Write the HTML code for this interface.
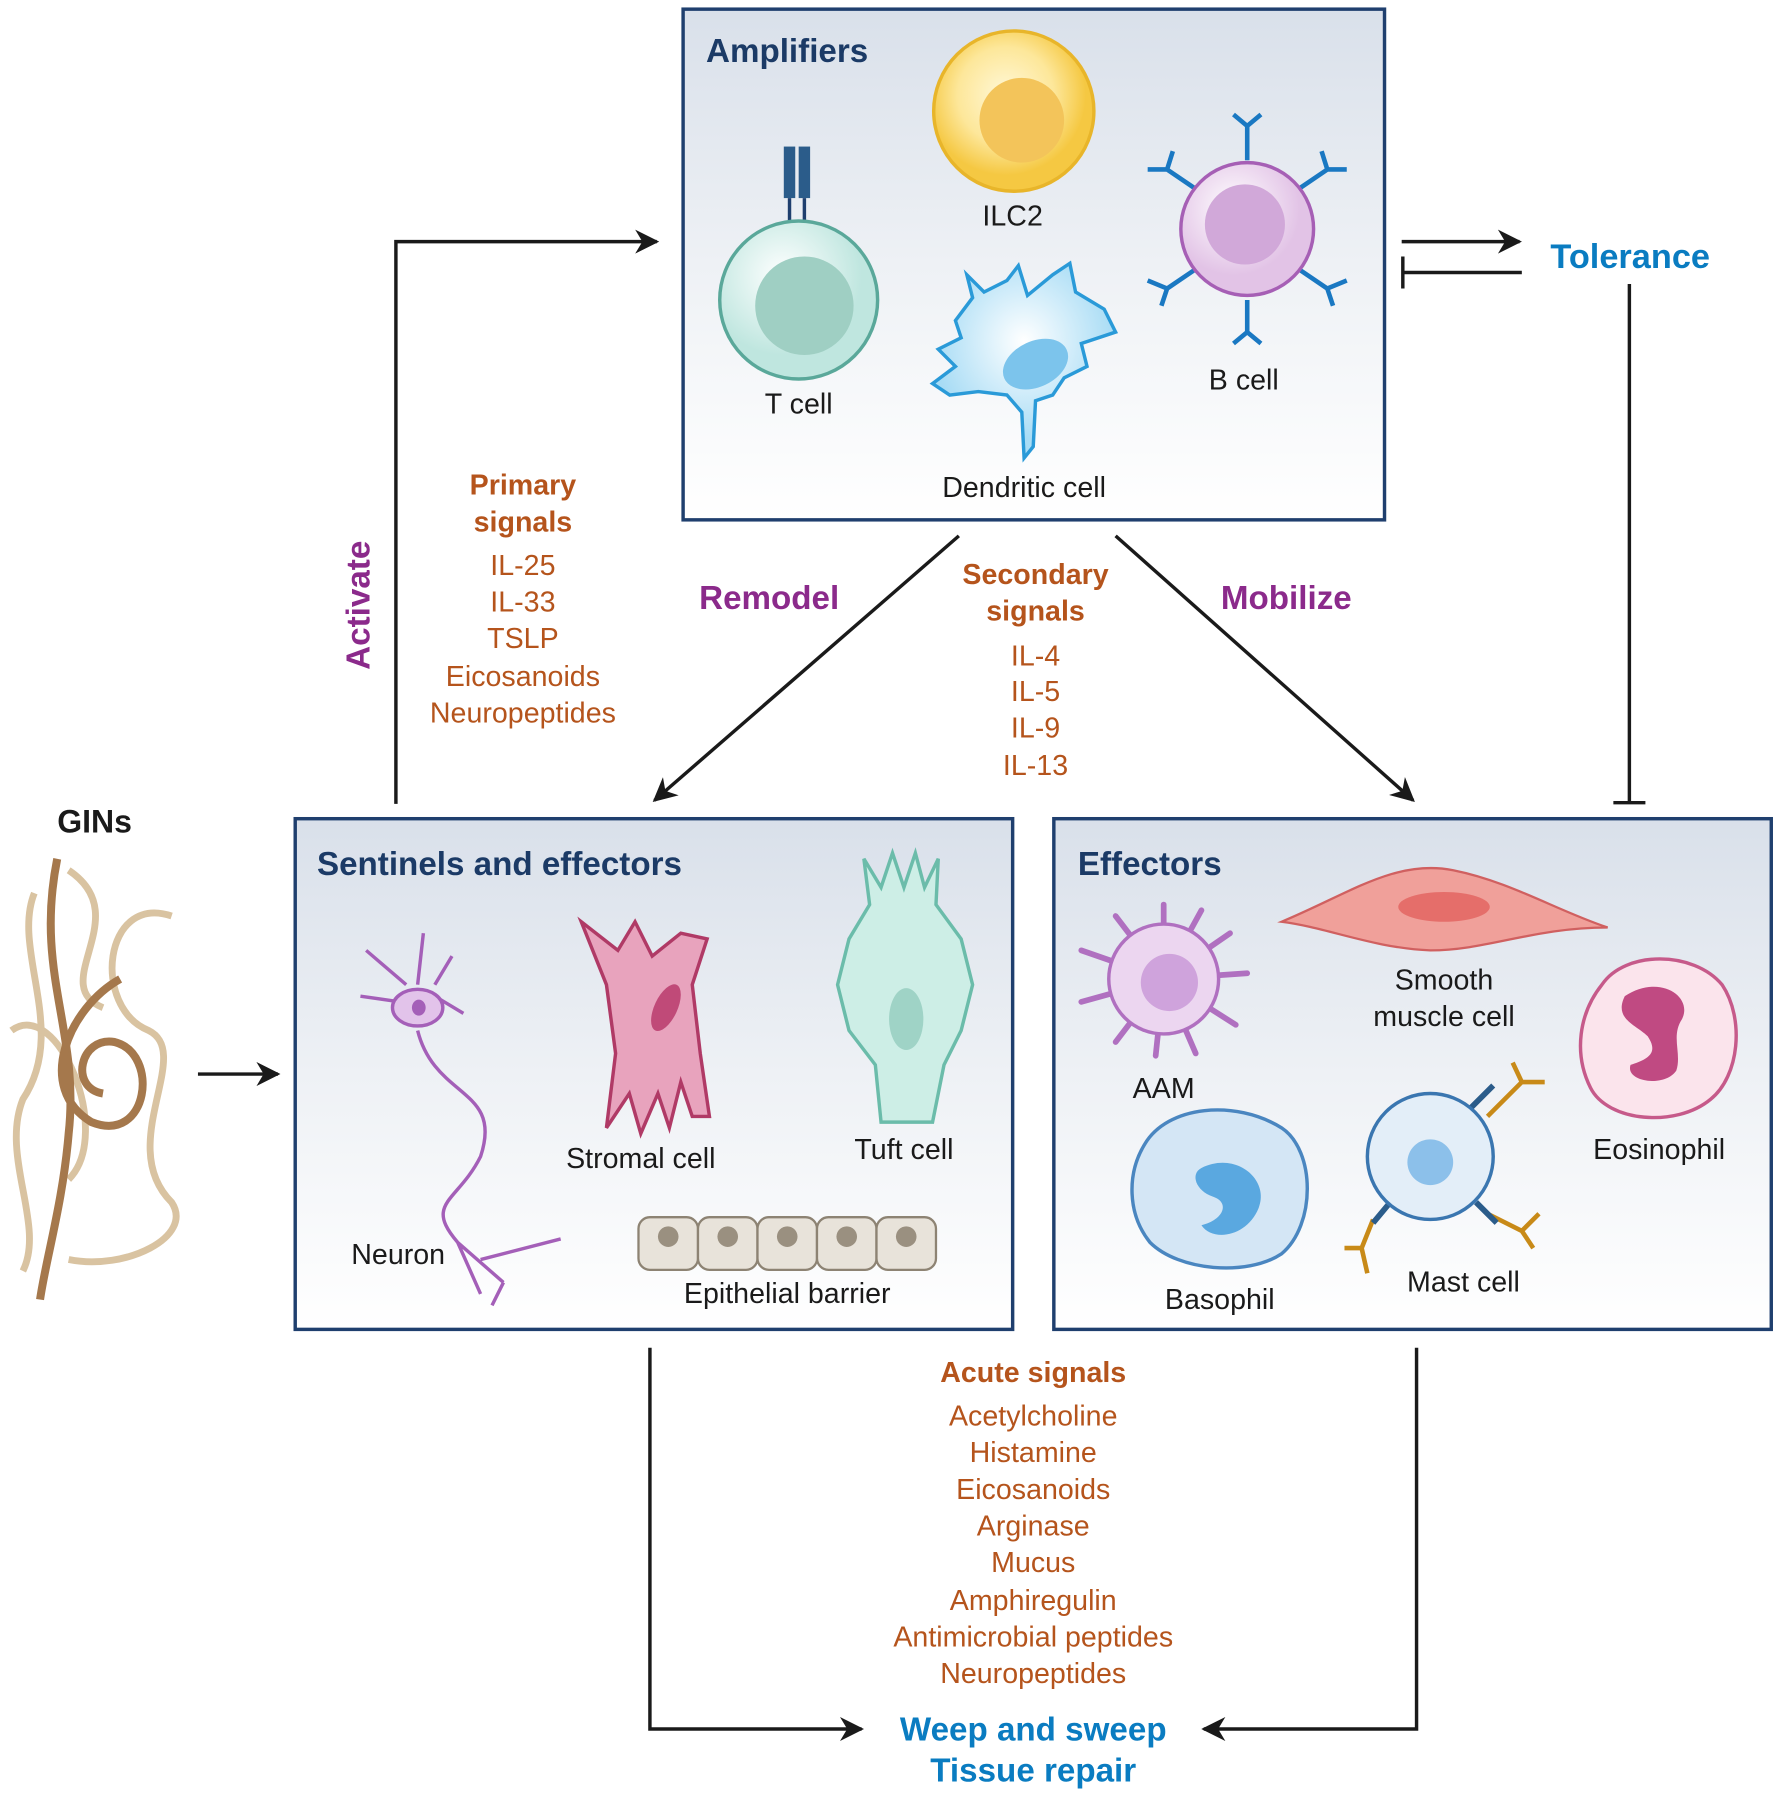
<!DOCTYPE html>
<html><head><meta charset="utf-8"><style>
html,body{margin:0;padding:0;background:#fff}
svg{display:block}
text{font-family:"Liberation Sans",sans-serif}
</style></head><body>
<svg width="1785" height="1800" viewBox="0 0 1560 1572" preserveAspectRatio="none" xmlns="http://www.w3.org/2000/svg">
<defs>
<linearGradient id="bg" x1="0" y1="0" x2="0" y2="1"><stop offset="0" stop-color="#d9e0ea"/><stop offset="0.5" stop-color="#eef1f5"/><stop offset="1" stop-color="#ffffff"/></linearGradient>
<marker id="ar" viewBox="0 0 10 10" refX="9" refY="5" markerWidth="7" markerHeight="7" orient="auto"><path d="M0,0 L10,5 L0,10 L3,5z" fill="#1a1a1a"/></marker>
<radialGradient id="ilc" cx="0.45" cy="0.4"><stop offset="0" stop-color="#fff8d8"/><stop offset="0.6" stop-color="#fde79a"/><stop offset="1" stop-color="#f5c842"/></radialGradient>
<radialGradient id="tc" cx="0.4" cy="0.35"><stop offset="0" stop-color="#ffffff"/><stop offset="1" stop-color="#bfe6df"/></radialGradient>
<radialGradient id="bc" cx="0.4" cy="0.35"><stop offset="0" stop-color="#ffffff"/><stop offset="1" stop-color="#e2c3e6"/></radialGradient>
<radialGradient id="dc" cx="0.5" cy="0.4"><stop offset="0" stop-color="#ffffff"/><stop offset="1" stop-color="#a8dcf5"/></radialGradient>
</defs>

<!-- boxes -->
<rect x="597" y="8" width="613" height="446" fill="url(#bg)" stroke="#1f3f6e" stroke-width="3"/>
<rect x="258" y="715" width="627" height="446" fill="url(#bg)" stroke="#1f3f6e" stroke-width="3"/>
<rect x="921" y="715" width="627" height="446" fill="url(#bg)" stroke="#1f3f6e" stroke-width="3"/>

<!-- connectors -->
<g stroke="#1a1a1a" stroke-width="3" fill="none">
<path d="M346,702 V211 H574" marker-end="url(#ar)"/>
<path d="M838,468 L572,699" marker-end="url(#ar)"/>
<path d="M975,468 L1235,699" marker-end="url(#ar)"/>
<path d="M1225,211 H1328" marker-end="url(#ar)"/>
<path d="M1330,238 H1226 M1226,224 V252"/>
<path d="M1424,248 V701 M1410,701 H1438"/>
<path d="M173,938 H243" marker-end="url(#ar)"/>
<path d="M568,1177 V1510 H753" marker-end="url(#ar)"/>
<path d="M1238,1177 V1510 H1052" marker-end="url(#ar)"/>
</g>

<!-- titles -->
<g font-weight="bold" fill="#1b3a66" font-size="29">
<text x="617" y="54">Amplifiers</text>
<text x="277" y="764">Sentinels and effectors</text>
<text x="942" y="764">Effectors</text>
</g>
<text x="50" y="727" font-size="28" font-weight="bold" fill="#1a1a1a">GINs</text>
<text x="1355" y="234" font-size="30" font-weight="bold" fill="#0a7cc1">Tolerance</text>
<g font-size="29" font-weight="bold" fill="#0a7cc1" text-anchor="middle">
<text x="903" y="1520">Weep and sweep</text>
<text x="903" y="1556">Tissue repair</text>
</g>
<g font-size="29" font-weight="bold" fill="#8b2a8b">
<text x="611" y="532">Remodel</text>
<text x="1067" y="532">Mobilize</text>
<text transform="translate(323,585) rotate(-90)">Activate</text>
</g>
<g fill="#b5541c" text-anchor="middle">
<text x="457" y="432" font-size="25" font-weight="bold">Primary</text>
<text x="457" y="464" font-size="25" font-weight="bold">signals</text>
<g font-size="25"><text x="457" y="502">IL-25</text><text x="457" y="534">IL-33</text><text x="457" y="566">TSLP</text><text x="457" y="599">Eicosanoids</text><text x="457" y="631">Neuropeptides</text></g>
<text x="905" y="510" font-size="25" font-weight="bold">Secondary</text>
<text x="905" y="542" font-size="25" font-weight="bold">signals</text>
<g font-size="25"><text x="905" y="581">IL-4</text><text x="905" y="612">IL-5</text><text x="905" y="644">IL-9</text><text x="905" y="677">IL-13</text></g>
<text x="903" y="1207" font-size="25" font-weight="bold">Acute signals</text>
<g font-size="25"><text x="903" y="1245">Acetylcholine</text><text x="903" y="1277">Histamine</text><text x="903" y="1309">Eicosanoids</text><text x="903" y="1341">Arginase</text><text x="903" y="1373">Mucus</text><text x="903" y="1406">Amphiregulin</text><text x="903" y="1438">Antimicrobial peptides</text><text x="903" y="1470">Neuropeptides</text></g>
</g>

<!-- cell labels -->
<g font-size="25" fill="#1a1a1a" text-anchor="middle">
<text x="885" y="197">ILC2</text><text x="698" y="361">T cell</text><text x="1087" y="340">B cell</text>
<text x="895" y="434">Dendritic cell</text>
<text x="348" y="1104">Neuron</text><text x="560" y="1020">Stromal cell</text><text x="790" y="1012">Tuft cell</text>
<text x="688" y="1138">Epithelial barrier</text>
<text x="1017" y="959">AAM</text><text x="1262" y="864">Smooth</text><text x="1262" y="896">muscle cell</text>
<text x="1450" y="1012">Eosinophil</text><text x="1066" y="1143">Basophil</text><text x="1279" y="1128">Mast cell</text>
</g>

<!-- ILC2 -->
<circle cx="886" cy="97" r="70" fill="url(#ilc)" stroke="#e8b52a" stroke-width="3"/>
<circle cx="893" cy="105" r="37" fill="#f3c45a"/>
<!-- T cell -->
<rect x="685" y="128" width="10" height="45" fill="#2b5c8a"/><rect x="698" y="128" width="10" height="45" fill="#2b5c8a"/>
<path d="M690,173 V212 M703,173 V212" stroke="#1f3f6e" stroke-width="3"/>
<circle cx="698" cy="262" r="69" fill="url(#tc)" stroke="#5aa89a" stroke-width="3"/>
<circle cx="703" cy="267" r="43" fill="#9fcfc3"/>
<!-- B cell -->
<g stroke="#1a78c2" stroke-width="4" fill="none">
<path d="M1090,140 V110 M1078,100 L1090,110 L1102,100"/>
<path d="M1090,262 V290 M1078,300 L1090,290 L1102,300"/>
<path d="M1135,165 L1160,148 M1155,132 L1160,148 L1177,148"/>
<path d="M1045,165 L1020,148 M1025,132 L1020,148 L1003,148"/>
<path d="M1135,235 L1160,252 M1177,245 L1160,252 L1165,267"/>
<path d="M1045,235 L1020,252 M1003,245 L1020,252 L1015,267"/>
</g>
<circle cx="1090" cy="200" r="58" fill="url(#bc)" stroke="#a65fb5" stroke-width="3"/>
<circle cx="1088" cy="196" r="35" fill="#d1a8d9"/>
<!-- Dendritic -->
<path d="M850,260 L845,240 L860,255 L880,245 L890,232 L898,258 L920,240 L935,230 L940,255 L965,270 L975,290 L945,300 L950,320 L930,330 L920,345 L905,350 L903,390 L895,400 L893,360 L880,345 L855,342 L830,345 L815,335 L835,320 L820,305 L840,295 L835,280z" fill="url(#dc)" stroke="#2a9ad8" stroke-width="3"/>
<ellipse cx="905" cy="318" rx="30" ry="20" transform="rotate(-25 905 318)" fill="#7cc4ec"/>

<!-- Neuron -->
<g stroke="#a45fb8" stroke-width="3" fill="none">
<path d="M365,900 C380,960 440,950 420,1010 C400,1050 370,1050 400,1085 L440,1120 M420,1100 L490,1082 M400,1085 L420,1130 M440,1120 L430,1140"/>
<path d="M355,860 L320,830 M365,860 L370,815 M380,870 L405,885 M350,875 L315,870 M380,860 L395,835"/>
</g>
<ellipse cx="365" cy="880" rx="22" ry="16" fill="#e2c3ea" stroke="#a45fb8" stroke-width="3"/>
<ellipse cx="366" cy="880" rx="6" ry="7" fill="#a45fb8"/>
<!-- Stromal -->
<path d="M508,805 L540,830 L555,805 L570,835 L595,815 L618,820 L605,860 L612,920 L620,975 L605,975 L595,945 L585,985 L575,955 L560,990 L550,955 L530,985 L538,920 L530,860z" fill="#e8a3bd" stroke="#b03a66" stroke-width="3"/>
<ellipse cx="582" cy="880" rx="10" ry="22" transform="rotate(25 582 880)" fill="#c04a78"/>
<!-- Tuft -->
<path d="M760,790 L755,750 L770,775 L780,745 L790,775 L800,745 L808,775 L820,750 L818,790 L840,820 L850,860 L840,900 L825,930 L815,980 L770,980 L765,930 L742,900 L732,860 L742,820z" fill="#cdeee6" stroke="#6bbcaa" stroke-width="3"/>
<ellipse cx="792" cy="890" rx="15" ry="27" fill="#9fd3c6"/>
<!-- Epithelial -->
<g fill="#e8e3da" stroke="#8d8373" stroke-width="2">
<rect x="558" y="1063" width="52" height="46" rx="10"/><rect x="610" y="1063" width="52" height="46" rx="10"/><rect x="662" y="1063" width="52" height="46" rx="10"/><rect x="714" y="1063" width="52" height="46" rx="10"/><rect x="766" y="1063" width="52" height="46" rx="10"/>
</g>
<g fill="#9a9080"><circle cx="584" cy="1080" r="9"/><circle cx="636" cy="1080" r="9"/><circle cx="688" cy="1080" r="9"/><circle cx="740" cy="1080" r="9"/><circle cx="792" cy="1080" r="9"/></g>

<!-- Worm -->
<g fill="none" stroke="#d9c3a1" stroke-width="6">
<path d="M30,780 C10,830 60,900 20,960 C0,1010 40,1070 20,1110"/>
<path d="M150,800 C90,780 80,880 130,900 C170,920 100,1000 150,1050 C170,1080 110,1110 60,1100"/>
<path d="M60,760 C120,800 40,860 90,880"/>
<path d="M10,900 C50,870 100,990 60,1030"/>
</g>
<path d="M50,750 C30,850 70,900 60,990 C55,1050 40,1100 35,1135" fill="none" stroke="#a5784c" stroke-width="7"/>
<path d="M105,855 C60,880 30,950 80,980 C130,1000 140,920 100,910 C70,905 60,950 90,955" fill="none" stroke="#a5784c" stroke-width="7"/>

<!-- Effectors -->
<path d="M1120,805 C1180,780 1220,750 1270,760 C1320,770 1360,795 1405,810 C1340,810 1300,830 1250,830 C1200,828 1160,810 1120,805z" fill="#f0a09a" stroke="#d06060" stroke-width="2"/>
<ellipse cx="1262" cy="792" rx="40" ry="13" fill="#e56e6a"/>
<!-- AAM -->
<g stroke="#b070c0" stroke-width="5" fill="none" stroke-linecap="round">
<path d="M1017,855 L1017,790 M1017,855 L1050,795 M1017,855 L1075,815 M1017,855 L1090,850 M1017,855 L1080,895 M1017,855 L1045,920 M1017,855 L1010,922 M1017,855 L975,910 M1017,855 L945,875 M1017,855 L945,830 M1017,855 L975,800"/>
</g>
<circle cx="1017" cy="855" r="48" fill="#ecd6f0" stroke="#b070c0" stroke-width="3"/>
<circle cx="1022" cy="858" r="25" fill="#cfa3dc"/>
<!-- Eosinophil -->
<path d="M1400,860 C1420,830 1480,830 1505,860 C1525,890 1520,940 1495,960 C1465,985 1405,980 1390,950 C1375,920 1380,885 1400,860z" fill="#fbe4ec" stroke="#c65a8a" stroke-width="3"/>
<path d="M1420,870 C1450,850 1480,870 1470,890 C1460,905 1470,920 1465,935 C1455,950 1420,945 1425,930 C1440,925 1450,920 1440,905 C1430,895 1410,890 1420,870z" fill="#c04a82"/>
<!-- Basophil -->
<path d="M1000,1000 C1020,965 1080,960 1120,985 C1150,1005 1150,1070 1120,1095 C1090,1115 1030,1110 1005,1085 C985,1060 985,1025 1000,1000z" fill="#d4e6f5" stroke="#4a86c0" stroke-width="3"/>
<path d="M1050,1020 C1080,1005 1110,1030 1100,1055 C1090,1080 1060,1085 1050,1070 C1070,1065 1075,1050 1060,1045 C1045,1040 1040,1025 1050,1020z" fill="#5aa8e0"/>
<!-- Mast -->
<g stroke="#c88a18" stroke-width="4" fill="none">
<path d="M1300,975 L1330,945 M1322,928 L1330,945 L1350,945"/>
<path d="M1300,1060 L1330,1075 M1345,1060 L1330,1075 L1340,1090"/>
<path d="M1200,1065 L1190,1090 M1175,1090 L1190,1090 L1195,1112"/>
</g>
<g stroke="#2b5c8a" stroke-width="5"><path d="M1285,968 L1305,948 M1290,1050 L1308,1068 M1215,1050 L1200,1068"/></g>
<circle cx="1250" cy="1010" r="55" fill="#e3eef8" stroke="#3a76b0" stroke-width="3"/>
<circle cx="1250" cy="1015" r="20" fill="#8cc0ea"/>
</svg>
</body></html>
